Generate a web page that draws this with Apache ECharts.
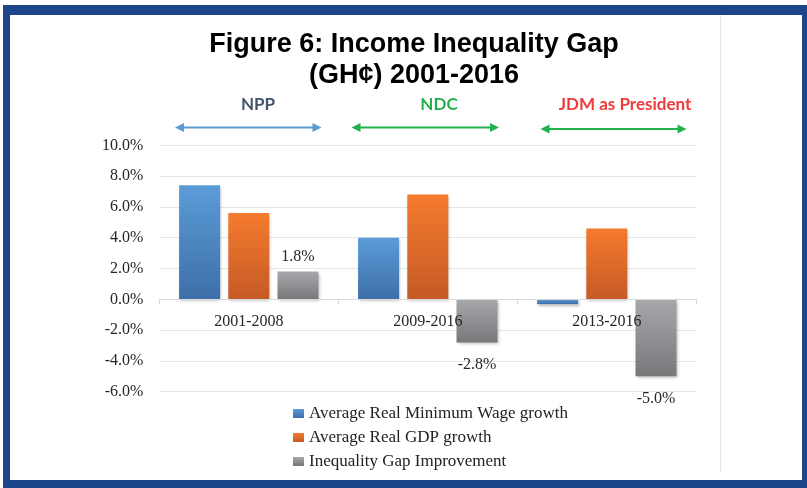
<!DOCTYPE html>
<html>
<head>
<meta charset="utf-8">
<script src="https://cdn.jsdelivr.net/npm/echarts@6/dist/echarts.min.js"></script>
<style>
html,body{margin:0;padding:0;background:#fff;}
#chart{width:807px;height:488px;}
</style>
</head>
<body>
<div id="chart"></div>
<script>
var categories = ['2001-2008', '2009-2016', '2013-2016'];
var seriesNames = ['Average Real Minimum Wage growth', 'Average Real GDP growth', 'Inequality Gap Improvement'];
var minWageGrowth = [7.4, 4.0, -0.3];
var gdpGrowth = [5.6, 6.8, 4.6];
var gapImprovement = [1.8, -2.8, -5.0];
var yTicks = { min: -6, max: 10, interval: 2 };
var periodLabels = ['NPP', 'NDC', 'JDM as President'];

function grad(top, bottom) {
  return new echarts.graphic.LinearGradient(0, 0, 0, 1, [
    { offset: 0, color: top }, { offset: 1, color: bottom }
  ]);
}
var shadow = { shadowBlur: 3, shadowColor: 'rgba(0,0,0,0.28)', shadowOffsetX: 1, shadowOffsetY: 2 };
function style(top, bottom) {
  return Object.assign({ color: grad(top, bottom) }, shadow);
}

function arrow(x1, x2, y, color) {
  var h = 9, w = 4.5;
  return [
    { type: 'line', shape: { x1: x1 + 6, y1: y, x2: x2 - 6, y2: y }, style: { stroke: color, lineWidth: 2 } },
    { type: 'polygon', shape: { points: [[x1, y], [x1 + h, y - w], [x1 + h, y + w]] }, style: { fill: color } },
    { type: 'polygon', shape: { points: [[x2, y], [x2 - h, y - w], [x2 - h, y + w]] }, style: { fill: color } }
  ];
}

var borderColor = '#1d4589';
var graphics = [
  { type: 'rect', shape: { x: 3, y: 5, width: 804, height: 10 }, style: { fill: borderColor } },
  { type: 'rect', shape: { x: 3, y: 480, width: 804, height: 8 }, style: { fill: borderColor } },
  { type: 'rect', shape: { x: 3, y: 5, width: 7, height: 483 }, style: { fill: borderColor } },
  { type: 'rect', shape: { x: 802, y: 5, width: 5, height: 483 }, style: { fill: borderColor } },
  { type: 'line', shape: { x1: 720.5, y1: 15, x2: 720.5, y2: 472 }, style: { stroke: '#e6e8ec', lineWidth: 1 } },
  { type: 'text', x: 258, y: 105, style: { text: periodLabels[0], fill: '#44546a', font: 'bold 17px Lato', textAlign: 'center', textVerticalAlign: 'middle' } },
  { type: 'text', x: 439, y: 105, style: { text: periodLabels[1], fill: '#22b14c', font: 'bold 17px Lato', textAlign: 'center', textVerticalAlign: 'middle' } },
  { type: 'text', x: 625, y: 105, style: { text: periodLabels[2], fill: '#f03a3a', font: 'bold 17px Lato', textAlign: 'center', textVerticalAlign: 'middle' } }
].concat(arrow(175, 321.5, 127.5, '#5b9bd5'))
 .concat(arrow(351.5, 499, 127.5, '#22b14c'))
 .concat(arrow(540.5, 686.5, 129, '#22b14c'));

function gapData(vals) {
  return vals.map(function (v) {
    return {
      value: v,
      label: v >= 0 ? { position: 'top', distance: 7 } : { position: 'bottom', distance: 14 }
    };
  });
}

var chart = echarts.init(document.getElementById('chart'), null, { renderer: 'canvas' });
chart.setOption({
  backgroundColor: '#ffffff',
  animation: false,
  title: {
    text: 'Figure 6: Income Inequality Gap\n(GH¢) 2001-2016',
    left: 409, top: 24, textAlign: 'center',
    textStyle: { fontFamily: 'Liberation Sans', fontWeight: 'bold', fontSize: 27, lineHeight: 31, color: '#000' }
  },
  grid: { left: 159.3, right: 110.7, top: 145.3, bottom: 96.3 },
  legend: {
    orient: 'vertical', left: 288, top: 400,
    itemWidth: 11, itemHeight: 9, itemGap: 7,
    icon: 'rect',
    textStyle: { fontFamily: 'Liberation Serif', fontSize: 17, lineHeight: 17, color: '#222' },
    data: seriesNames
  },
  xAxis: {
    type: 'category', data: categories, z: 5,
    axisLine: { onZero: true, lineStyle: { color: '#d9d9d9', width: 1 } },
    axisTick: { show: true, length: 5, lineStyle: { color: '#d9d9d9' } },
    axisLabel: { margin: -78, fontFamily: 'Liberation Serif', fontSize: 16, color: '#262626' }
  },
  yAxis: {
    type: 'value', min: yTicks.min, max: yTicks.max, interval: yTicks.interval,
    axisLine: { show: false }, axisTick: { show: false },
    splitLine: { lineStyle: { color: '#e3e5e9', width: 1 } },
    axisLabel: {
      margin: 16, fontFamily: 'Liberation Serif', fontSize: 16, color: '#262626',
      formatter: function (v) { return v.toFixed(1) + '%'; }
    }
  },
  series: [
    { name: seriesNames[0], type: 'bar', data: minWageGrowth, barWidth: 41, barGap: '20%',
      itemStyle: style('#5b9cd8', '#3d6fa8') },
    { name: seriesNames[1], type: 'bar', data: gdpGrowth, barWidth: 41, barGap: '20%',
      itemStyle: style('#f57b2e', '#c55a26') },
    { name: seriesNames[2], type: 'bar', data: gapData(gapImprovement), barWidth: 41, barGap: '20%',
      itemStyle: style('#a7a8ab', '#78787b'),
      label: { show: true, fontFamily: 'Liberation Serif', fontSize: 16, color: '#262626',
        formatter: function (p) { return p.value.toFixed(1) + '%'; } } }
  ],
  graphic: graphics
});
</script>
</body>
</html>
